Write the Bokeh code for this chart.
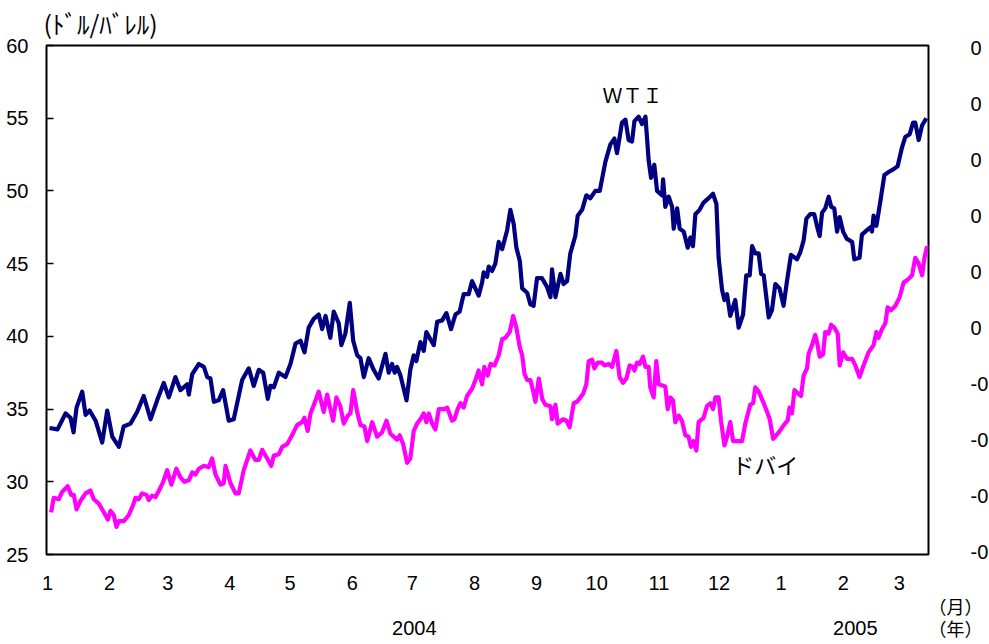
import pandas as pd
from bokeh.plotting import figure
from bokeh.models import (Range1d, LinearAxis, FixedTicker, Label, Title,
                          CustomJSTickFormatter)
from bokeh.embed import file_html
from bokeh.resources import INLINE

# ---------------- data (days since 2004-01-01, US$/barrel) ----------------
wti_day = [1, 5, 9, 11.5, 13, 14.5, 17.3, 19, 21, 24, 27.3, 29.8, 32.3, 35.6, 38,
           41.4, 44.7, 48, 51.4, 54.7, 58, 60.5, 63.8, 66.3, 69.7, 70.5, 72.2, 75.5,
           78, 79.7, 81.3, 83, 85.4, 87.6, 90.4, 92.9, 97.1, 100.4, 102.9, 105.4,
           107.6, 109.9, 111.2, 112.9, 115.4, 118.7, 121.2, 123.7, 126.2, 128.2,
           130.3, 132.8, 135.3, 137, 138.7, 141.1, 142.8, 145.3, 146.6, 148.6, 150.8,
           152.5, 154.5, 156.1, 157.8, 160.2, 162.7, 165.2, 168.6, 170.2, 171.9,
           173.2, 174.4, 176.1, 179.1, 181, 182.7, 184, 186, 187.7, 189, 191, 192.7,
           194.4, 196.9, 199, 201.3, 203.5, 205.6, 207.6, 210.1, 211.8, 215.1, 216.8,
           217.6, 219.3, 220.1, 221.8, 223.4, 225.1, 226.8, 229.3, 230.9, 232.6,
           233.9, 235.6, 236.8, 239.3, 240.9, 242.5, 244.2, 246.7, 249.2, 250.9,
           251.7, 253.4, 255.9, 257.5, 259.2, 260.8, 263.3, 264.5, 266.7, 268.8,
           270.8, 273.3, 275.5, 278.3, 280.8, 282.8, 284.1, 286.6, 288.3, 289.9,
           291.6, 292.8, 294.9, 296.6, 298.3, 299.9, 301.1, 302.7, 304.1, 306.6,
           307.1, 308.2, 309.9, 311.6, 312.4, 314.1, 315.4, 317.4, 319.4, 320.7,
           322, 323.2, 325.3, 327.3, 329.8, 332, 333.7, 334.8, 336.5, 337.7, 339,
           340.6, 343.1, 344.8, 347, 348.6, 350.3, 351.5, 353.1, 354.8, 356, 357.3,
           359.8, 361.4, 363.1, 365.2, 367.2, 368.9, 370.9, 373.9, 375.6, 377.2,
           378.6, 380.5, 382.5, 384.2, 385.2, 386.4, 388, 389.7, 391, 392.5, 393.9,
           395.2, 396.9, 398.8, 401.4, 402.5, 405.1, 406.3, 408.8, 410.5, 411.3,
           412.1, 413.5, 415.5, 417.5, 419.6, 422.1, 424.1, 426.3, 427.9, 430.1,
           431.8, 432.9, 434.6, 436.3, 438.4]
wti_val = [33.7, 33.6, 34.7, 34.4, 33.4, 35.1, 36.2, 34.6, 34.9, 34.2, 32.7, 34.9, 33.1,
           32.4, 33.8, 34.0, 34.8, 35.9, 34.3, 35.6, 36.8, 35.8, 37.2, 36.3, 36.7, 36.0,
           37.4, 38.1, 37.9, 37.2, 37.1, 35.5, 35.6, 36.3, 34.2, 34.3, 37.0, 37.8, 36.6,
           37.7, 37.5, 35.7, 36.6, 36.5, 37.5, 37.2, 38.1, 39.5, 39.7, 38.9, 40.6, 41.2,
           41.5, 40.5, 41.4, 39.9, 41.7, 40.9, 39.4, 40.2, 42.3, 39.7, 38.7, 38.5, 37.2,
           38.5, 37.7, 37.1, 38.8, 37.5, 38.1, 37.5, 37.9, 37.3, 35.6, 37.7, 38.7, 38.3,
           39.6, 39.0, 40.3, 39.8, 39.4, 41.0, 41.1, 41.6, 40.5, 41.5, 41.7, 42.9, 42.9,
           43.8, 42.8, 43.7, 44.4, 44.1, 44.8, 44.5, 45.0, 46.5, 46.0, 47.3, 48.7, 47.7,
           46.1, 45.2, 43.3, 43.0, 42.2, 42.1, 44.0, 44.0, 43.4, 42.7, 44.6, 42.7, 44.3,
           43.6, 43.8, 45.7, 46.9, 48.3, 48.7, 49.7, 49.5, 50.0, 50.0, 52.0, 53.2, 53.6,
           52.6, 54.7, 54.9, 53.5, 53.4, 54.8, 55.1, 54.6, 55.1, 52.1, 50.9, 51.8, 50.0,
           49.7, 50.8, 48.9, 49.6, 48.9, 47.4, 48.8, 47.4, 47.2, 46.1, 46.8, 46.2, 48.4,
           48.7, 49.2, 49.5, 49.8, 49.1, 45.4, 43.2, 42.5, 42.9, 41.4, 42.5, 40.6, 41.5,
           44.2, 44.2, 46.2, 45.7, 45.7, 44.3, 44.2, 41.3, 41.8, 43.6, 43.3, 42.1, 43.8,
           45.6, 45.3, 45.8, 46.6, 48.1, 48.4, 48.4, 47.4, 46.9, 48.5, 48.8, 49.6, 48.9,
           48.8, 47.2, 48.2, 47.2, 46.7, 46.5, 45.3, 45.4, 47.0, 47.3, 47.5, 47.2, 48.3,
           47.6, 49.3, 51.1, 51.3, 51.5, 51.7, 53.0, 53.7, 53.9, 54.7, 54.7, 53.5, 54.5,
           55.0]

dubai_day = [1.8, 3.1, 5.6, 7.3, 10.1, 11.8, 13.1, 14.5, 16.5, 19, 21.4, 23.1, 25.6,
             28.1, 30.1, 31.4, 33.1, 34.4, 35.6, 38.1, 40.5, 42.7, 43.9, 45.5, 47.2,
             49.4, 50.5, 52.2, 53.9, 56, 57.7, 59.7, 61.8, 64.3, 66.3, 68.3, 70.5,
             72.2, 73.8, 75.5, 78, 80.4, 82.1, 83.8, 86.3, 87.9, 88.8, 91.3, 93.8,
             95.4, 97.9, 101.2, 103.7, 105.4, 107.1, 109.6, 111.6, 112.9, 115.4,
             117.1, 119.6, 122, 124.5, 127, 128.2, 129.8, 131.2, 133.2, 135.3, 137.8,
             139.5, 140.8, 142.5, 144.1, 146.1, 147.8, 149.8, 151.1, 152.5, 154.5,
             156.1, 158.1, 159.5, 162, 164.4, 166.9, 169.1, 171.1, 172.7, 174.4,
             175.7, 177.4, 179.4, 181, 182.7, 184.4, 186, 187.7, 189, 190.2, 191.9,
             193.5, 195.2, 197.7, 199.4, 201.8, 203, 204.6, 206, 207.6, 209.3, 211.8,
             213.5, 215.1, 216.8, 217.9, 219.6, 221, 223, 225.1, 226.8, 228.4, 230.6,
             232.3, 233.9, 235.6, 236.8, 238, 239.3, 240.9, 242.6, 243.4, 245.1,
             246.8, 248.4, 250.9, 251.7, 253.4, 254.5, 257.2, 258.9, 260.5, 262.5,
             264.2, 267.2, 268.8, 270, 271.7, 272.8, 274.5, 276.6, 277.8, 279.9,
             281.6, 283.8, 285.4, 287.1, 288.8, 290.4, 292.1, 292.8, 294.1, 295.4,
             297.1, 298.3, 299.9, 300.7, 302.4, 303.7, 304.9, 308.2, 309.4, 310.7,
             312, 313.2, 314.9, 316.5, 318.2, 319.8, 321, 322.3, 323.7, 324.8, 327.3,
             329, 330.7, 332, 333.2, 334.8, 336, 337.7, 339, 340.6, 342, 344, 346.5,
             348.1, 350.6, 352, 353.1, 354.8, 357, 359, 360.3, 362, 364.8, 367.3,
             369.2, 370.2, 371.4, 372.6, 374.2, 375.9, 377.2, 378.9, 379.7, 381.4,
             383, 384.2, 385.2, 386.9, 388, 389.7, 390.9, 392.5, 394.2, 395.2, 396.9,
             398.9, 401.4, 403, 405.1, 407.1, 409.6, 412.1, 413.5, 414.6, 416.3, 418,
             419.1, 420.8, 423, 425.1, 427.1, 429.6, 431.3, 432.9, 434.6, 436.3,
             437.5, 438.8]
dubai_val = [27.9, 28.9, 28.8, 29.3, 29.7, 29.1, 29.1, 28.1, 28.7, 29.2, 29.4, 28.8,
             28.5, 27.9, 27.4, 28.0, 27.7, 26.9, 27.3, 27.3, 27.7, 28.4, 28.9, 28.8,
             29.2, 29.1, 28.75, 29.05, 28.95, 29.5, 30.0, 30.8, 29.8, 30.9, 30.3, 30.0,
             30.1, 30.65, 30.5, 30.9, 31.1, 31.0, 31.6, 30.5, 29.8, 29.9, 31.1, 29.9,
             29.2, 29.2, 30.8, 32.15, 31.5, 31.5, 32.2, 31.6, 31.1, 31.8, 31.9, 32.4,
             32.6, 33.2, 33.9, 34.1, 34.4, 33.5, 34.7, 35.4, 36.2, 34.8, 36.0, 35.2,
             34.2, 35.8, 35.2, 34.0, 34.55, 34.7, 36.3, 34.8, 33.9, 33.8, 32.8, 34.1,
             33.1, 33.4, 34.2, 33.3, 33.1, 32.9, 33.2, 32.6, 31.3, 31.6, 33.5, 34.0,
             34.3, 34.7, 34.1, 34.7, 34.0, 33.6, 35.0, 35.0, 35.1, 34.2, 34.3, 35.0,
             35.4, 35.1, 35.9, 36.4, 37.0, 37.65, 36.7, 37.9, 37.3, 38.1, 38.0, 38.7,
             39.8, 39.9, 40.3, 41.4, 40.6, 39.25, 38.7, 37.4, 37.0, 37.0, 36.05, 35.5,
             37.1, 35.7, 35.3, 35.2, 34.3, 35.3, 34.0, 34.3, 34.2, 33.75, 35.4, 35.5,
             36.05, 36.7, 38.3, 38.4, 37.8, 38.2, 38.2, 38.0, 38.1, 37.9, 39.0, 37.2,
             36.8, 37.1, 38.0, 37.9, 37.65, 38.2, 38.1, 38.6, 37.9, 37.9, 36.5, 35.8,
             38.3, 36.7, 36.55, 35.0, 35.8, 35.6, 34.1, 34.55, 34.2, 33.2, 33.1, 32.4,
             32.8, 32.15, 34.1, 34.4, 35.2, 35.4, 35.0, 35.8, 35.8, 34.2, 32.5, 33.1,
             34.1, 32.8, 32.8, 32.8, 34.0, 35.3, 35.4, 36.5, 36.2, 35.5, 34.8, 34.3,
             32.95, 33.4, 33.9, 34.2, 35.1, 34.7, 36.3, 36.1, 35.9, 37.3, 37.8, 38.8,
             39.4, 40.1, 39.4, 38.6, 38.75, 40.3, 40.2, 40.8, 40.6, 40.2, 38.0, 38.9,
             38.45, 38.45, 38.0, 37.2, 38.0, 38.9, 39.4, 40.3, 39.9, 40.5, 40.9, 42.0,
             41.8, 42.1, 42.7, 43.7, 43.95, 44.2, 45.4, 45.0, 44.2, 45.4, 46.2]

y_ticks = [25, 30, 35, 40, 45, 50, 55, 60]
right_ticks = [-0.4, -0.3, -0.2, -0.1, 0.0, 0.1, 0.2, 0.3, 0.4, 0.5]

base = pd.Timestamp("2004-01-01")
month_starts = pd.date_range("2004-01-01", "2005-03-01", freq="MS")
month_ticks = [int((d - base).days) for d in month_starts]
month_labels = [str(d.month) for d in month_starts]
x_end = 439.5
year_names = ["2004", "2005"]
year_ticks = [183, int(round((366 + x_end) / 2))]

NUM_FONT = "Liberation Sans"
JP_FONT = "Noto Sans CJK JP"

p = figure(frame_width=882, frame_height=509,
           x_range=Range1d(-0.5, x_end), y_range=Range1d(25, 60),
           output_backend="svg", toolbar_location=None,
           min_border_left=46, min_border_top=45, min_border_right=60,
           min_border_bottom=90, background_fill_color="white",
           border_fill_color="white")
p.outline_line_color = "black"
p.outline_line_width = 2
p.xgrid.visible = False
p.ygrid.visible = False

p.line(wti_day, wti_val, line_color="#000080", line_width=4.2, line_join="round")
p.line(dubai_day, dubai_val, line_color="#FF00FF", line_width=4.2, line_join="round")

# unit title (top-left)
p.title.text = "(ﾄﾞﾙ/ﾊﾞﾚﾙ)"
p.title.align = "left"
p.title.offset = -3
p.title.vertical_align = "top"
p.title.standoff = 6
p.title.text_font = JP_FONT
p.title.text_font_size = "25px"
p.title.text_font_style = "normal"
p.title.text_color = "black"

# left axis
ya = p.yaxis[0]
ya.ticker = FixedTicker(ticks=y_ticks)
ya.axis_line_color = None
ya.major_tick_in = 7
ya.major_tick_out = 0
ya.major_tick_line_color = "black"
ya.major_tick_line_width = 1.5
ya.minor_tick_line_color = None
ya.major_label_standoff = 18
ya.major_label_text_font = NUM_FONT
ya.major_label_text_font_size = "20px"
ya.major_label_text_color = "black"

# right axis (labels only)
p.extra_y_ranges = {"r": Range1d(-0.405, 0.505)}
ra = LinearAxis(y_range_name="r", ticker=FixedTicker(ticks=right_ticks),
                formatter=CustomJSTickFormatter(code="return tick < -1e-9 ? '-0' : '0';"))
ra.axis_line_color = None
ra.major_tick_line_color = None
ra.major_tick_out = 0
ra.minor_tick_line_color = None
ra.major_label_standoff = 42
ra.major_label_text_font = NUM_FONT
ra.major_label_text_font_size = "20px"
ra.major_label_text_color = "black"
p.add_layout(ra, "right")

# bottom month axis
xa = p.xaxis[0]
xa.ticker = FixedTicker(ticks=month_ticks)
xa.major_label_overrides = {t: l for t, l in zip(month_ticks, month_labels)}
xa.axis_line_color = None
xa.major_tick_line_color = None
xa.major_tick_out = 0
xa.minor_tick_line_color = None
xa.major_label_standoff = 21
xa.major_label_text_font = NUM_FONT
xa.major_label_text_font_size = "20px"
xa.major_label_text_color = "black"

# month / year unit marks at the right end of the axis rows
def unit_mark(text, standoff):
    return Title(text=text, align="right", offset=-54, vertical_align="top",
                 standoff=standoff, text_font=JP_FONT, text_font_size="18px",
                 text_font_style="normal", text_color="black")

t_month = unit_mark("（月）", 0)
t_year = unit_mark("（年）", -12)

# year axis
yr = LinearAxis(ticker=FixedTicker(ticks=year_ticks),
                major_label_overrides={t: n for t, n in zip(year_ticks, year_names)})
yr.axis_line_color = None
yr.major_tick_line_color = None
yr.major_tick_out = 0
yr.minor_tick_line_color = None
yr.major_label_standoff = -16
yr.major_label_text_font = NUM_FONT
yr.major_label_text_font_size = "20px"
yr.major_label_text_color = "black"

p.below = [xa, t_month, t_year, yr]

# line labels
p.add_layout(Label(x=291.8, y=56.6, text="ＷＴＩ", text_font=JP_FONT,
                   text_font_size="20px", text_align="center", text_baseline="middle",
                   text_color="black"))
p.add_layout(Label(x=358.0, y=31.2, text="ドバイ", text_font=JP_FONT,
                   text_font_size="22px", text_align="center", text_baseline="middle",
                   text_color="black"))

open("out.html", "w").write(file_html(p, INLINE))
